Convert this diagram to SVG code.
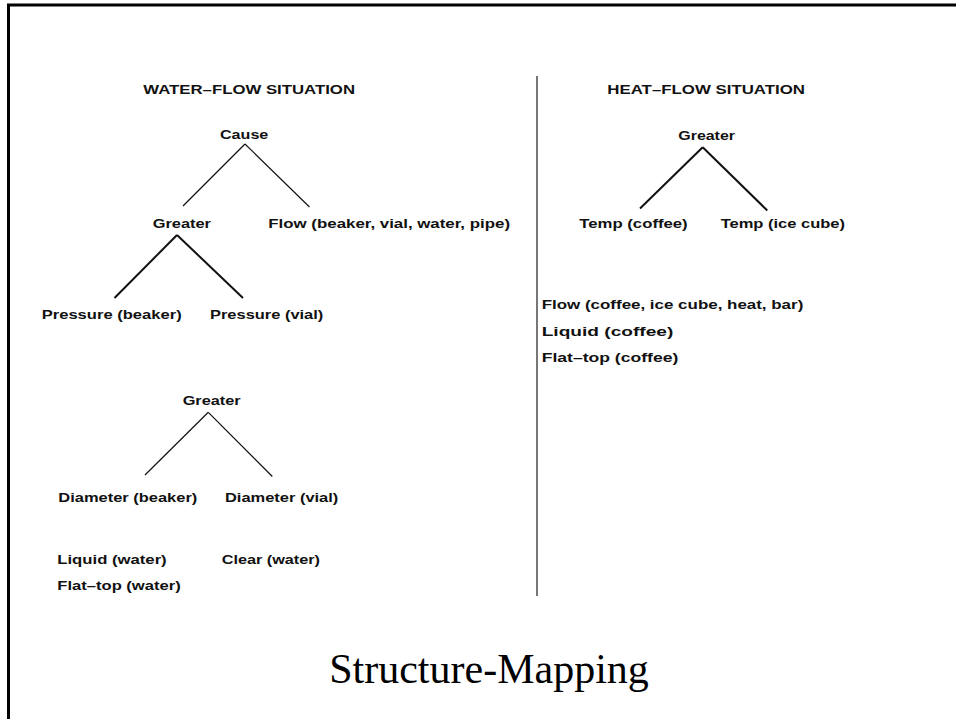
<svg xmlns="http://www.w3.org/2000/svg" width="956" height="719" viewBox="0 0 956 719">
<style>
.t{font-family:"Liberation Sans",Arial,sans-serif;font-weight:bold;font-size:12.5px;fill:#111}
.thin{stroke:#111;stroke-width:1.2;fill:none}
.thick{stroke:#111;stroke-width:2;fill:none}
.title{font-family:"Liberation Serif","Times New Roman",serif;font-size:42px;fill:#000}
</style>
<rect width="956" height="719" fill="#fff"/>
<path d="M8.5,719 V5 H956" fill="none" stroke="#000" stroke-width="3"/>
<g id="connectors">
<line class="thin" x1="245" y1="144" x2="183" y2="206"/>
<line class="thin" x1="245" y1="144" x2="309.5" y2="207"/>
<line class="thick" x1="177" y1="235" x2="114.5" y2="298"/>
<line class="thick" x1="177" y1="235" x2="243" y2="298"/>
<line class="thin" x1="208.3" y1="412.3" x2="145" y2="475"/>
<line class="thin" x1="208.3" y1="412.3" x2="272.3" y2="476.5"/>
<line class="thick" x1="702.7" y1="147.3" x2="640" y2="208.5"/>
<line class="thick" x1="702.7" y1="147.3" x2="767.3" y2="210.5"/>
</g>
<line id="separator" x1="537" y1="76" x2="537" y2="596" stroke="#555" stroke-width="1.6"/>
<g id="water-title"><text class="t" x="143.3" y="93.5" textLength="211.7" lengthAdjust="spacingAndGlyphs">WATER–FLOW SITUATION</text></g>
<g id="cause"><text class="t" x="220" y="138.5" textLength="48.3" lengthAdjust="spacingAndGlyphs">Cause</text></g>
<g id="greater1"><text class="t" x="152.7" y="227.7" textLength="58.3" lengthAdjust="spacingAndGlyphs">Greater</text></g>
<g id="flow-water"><text class="t" x="268.3" y="227.7" textLength="241.7" lengthAdjust="spacingAndGlyphs">Flow (beaker, vial, water, pipe)</text></g>
<g id="pressure-beaker"><text class="t" x="41.7" y="318.5" textLength="140" lengthAdjust="spacingAndGlyphs">Pressure (beaker)</text></g>
<g id="pressure-vial"><text class="t" x="210" y="318.5" textLength="113.3" lengthAdjust="spacingAndGlyphs">Pressure (vial)</text></g>
<g id="greater2"><text class="t" x="182.7" y="404.5" textLength="58" lengthAdjust="spacingAndGlyphs">Greater</text></g>
<g id="diameter-beaker"><text class="t" x="58.3" y="501.7" textLength="139" lengthAdjust="spacingAndGlyphs">Diameter (beaker)</text></g>
<g id="diameter-vial"><text class="t" x="225" y="501.7" textLength="113.3" lengthAdjust="spacingAndGlyphs">Diameter (vial)</text></g>
<g id="liquid-water"><text class="t" x="57.3" y="564" textLength="109.4" lengthAdjust="spacingAndGlyphs">Liquid (water)</text></g>
<g id="clear-water"><text class="t" x="221.7" y="564" textLength="98.3" lengthAdjust="spacingAndGlyphs">Clear (water)</text></g>
<g id="flattop-water"><text class="t" x="57.3" y="589.5" textLength="123.4" lengthAdjust="spacingAndGlyphs">Flat–top (water)</text></g>
<g id="heat-title"><text class="t" x="607.3" y="93.5" textLength="197.7" lengthAdjust="spacingAndGlyphs">HEAT–FLOW SITUATION</text></g>
<g id="greater3"><text class="t" x="678.3" y="139.5" textLength="56.7" lengthAdjust="spacingAndGlyphs">Greater</text></g>
<g id="temp-coffee"><text class="t" x="579.3" y="228.3" textLength="108.4" lengthAdjust="spacingAndGlyphs">Temp (coffee)</text></g>
<g id="temp-ice"><text class="t" x="720.7" y="228.3" textLength="124.3" lengthAdjust="spacingAndGlyphs">Temp (ice cube)</text></g>
<g id="flow-heat"><text class="t" x="541.7" y="309.3" textLength="261.6" lengthAdjust="spacingAndGlyphs">Flow (coffee, ice cube, heat, bar)</text></g>
<g id="liquid-coffee"><text class="t" x="541.7" y="335.7" textLength="131.6" lengthAdjust="spacingAndGlyphs">Liquid (coffee)</text></g>
<g id="flattop-coffee"><text class="t" x="541.7" y="362.3" textLength="136.6" lengthAdjust="spacingAndGlyphs">Flat–top (coffee)</text></g>
<text class="title" x="489" y="683.3" text-anchor="middle">Structure-Mapping</text>
</svg>
